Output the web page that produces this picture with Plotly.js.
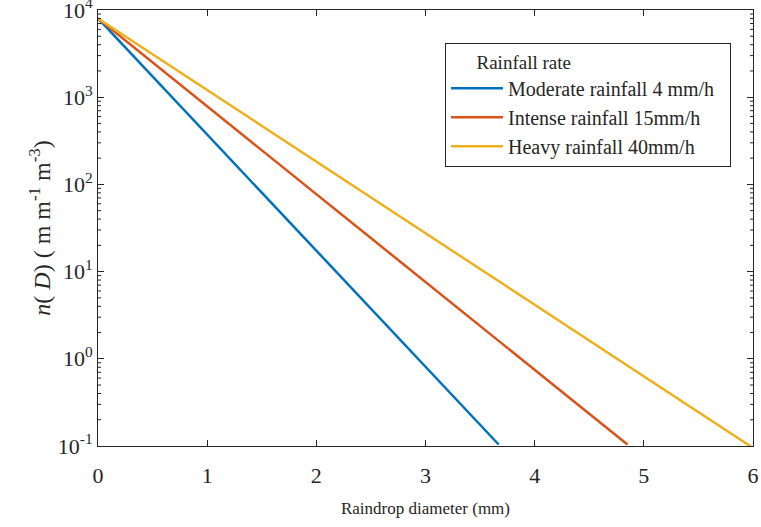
<!DOCTYPE html>
<html>
<head>
<meta charset="utf-8">
<script src="https://cdn.plot.ly/plotly-3.0.1.min.js"></script>
<style>html,body{margin:0;padding:0;background:#fff;}#chart{width:761px;height:527px;}</style>
</head>
<body>
<div id="chart"></div>
<script>
// Raindrop diameter (mm) and n(D) values
const seriesNames = ["Moderate rainfall 4 mm/h", "Intense rainfall 15mm/h", "Heavy rainfall 40mm/h"];
const moderateD = [0, 1, 2, 3, 3.67];
const moderateN = [8000, 373, 17.4, 0.81, 0.104];
const intenseD = [0, 1, 2, 3, 4, 4.85];
const intenseN = [8000, 786, 77.2, 7.6, 0.745, 0.104];
const heavyD = [0, 1, 2, 3, 4, 5, 6];
const heavyN = [8000, 1209, 182.8, 27.6, 4.17, 0.63, 0.095];
const colors = ["#0072BD", "#D95319", "#EDB120"];
const xTicks = [0, 1, 2, 3, 4, 5, 6];
const yTicks = [0.1, 1, 10, 100, 1000, 10000];
const yTickText = ["10<sup>-1</sup>", "10<sup>0</sup>", "10<sup>1</sup>", "10<sup>2</sup>", "10<sup>3</sup>", "10<sup>4</sup>"];
const legendTitle = "Rainfall rate";

// minor log ticks (2..9 in each decade), drawn as short inside tick marks on both sides
const minorVals = [];
yTicks.slice(0, -1).forEach(t => { for (let k = 2; k <= 9; k++) minorVals.push(t * k); });
const tickColor = '#262626';
const shapes = [];
minorVals.forEach(v => {
  shapes.push({type: 'line', xref: 'paper', yref: 'y', xsizemode: 'pixel', xanchor: 0, x0: 0, x1: 3,
    y0: v, y1: v, line: {color: tickColor, width: 1}, layer: 'above'});
  shapes.push({type: 'line', xref: 'paper', yref: 'y', xsizemode: 'pixel', xanchor: 1, x0: -3, x1: 0,
    y0: v, y1: v, line: {color: tickColor, width: 1}, layer: 'above'});
});

const xs = [moderateD, intenseD, heavyD];
const ys = [moderateN, intenseN, heavyN];
const traces = seriesNames.map((n, i) => ({
  x: xs[i], y: ys[i], name: n, type: 'scatter', mode: 'lines',
  line: {color: colors[i], width: 2.5}
}));

const fam = 'Liberation Serif, Times New Roman, serif';
const f = (s) => ({family: fam, size: s, color: tickColor});
const pad = (n) => '\u00A0'.repeat(n);
const layout = {
  width: 761, height: 527,
  margin: {l: 98, r: 8, t: 10, b: 81},
  paper_bgcolor: '#fff', plot_bgcolor: '#fff',
  font: f(22),
  showlegend: true,
  shapes: shapes,
  legend: {
    x: 0.5298, y: 0.924, xanchor: 'left', yanchor: 'top',
    bordercolor: tickColor, borderwidth: 1, bgcolor: '#fff',
    font: f(20), itemwidth: 52,
    title: {text: pad(6) + legendTitle + pad(33), font: f(19)},
    tracegroupgap: 0
  },
  xaxis: {
    range: [0, 6], tickmode: 'array', tickvals: xTicks, ticktext: xTicks.map(String),
    ticks: 'inside', ticklen: 6, tickcolor: tickColor, tickwidth: 1,
    showline: true, linecolor: tickColor, linewidth: 1, mirror: 'ticks',
    showgrid: false, zeroline: false, ticklabeloverflow: 'allow', ticklabelstandoff: 10,
    tickfont: f(22),
    title: {text: 'Raindrop diameter (mm)', font: f(17), standoff: 14}
  },
  yaxis: {
    type: 'log', range: [-1.0001, 4.0001],
    tickmode: 'array', tickvals: yTicks, ticktext: yTickText,
    ticks: 'inside', ticklen: 6, tickcolor: tickColor, tickwidth: 1,
    showline: true, linecolor: tickColor, linewidth: 1, mirror: 'ticks',
    showgrid: false, zeroline: false, ticklabeloverflow: 'allow',
    tickfont: f(22),
    title: {text: '<i>n</i>( <i>D</i>) ( m m<sup>-1</sup> m<sup>-3</sup>)', font: f(24), standoff: 0}
  }
};
Plotly.newPlot('chart', traces, layout, {staticPlot: true, displayModeBar: false});
</script>
</body>
</html>
